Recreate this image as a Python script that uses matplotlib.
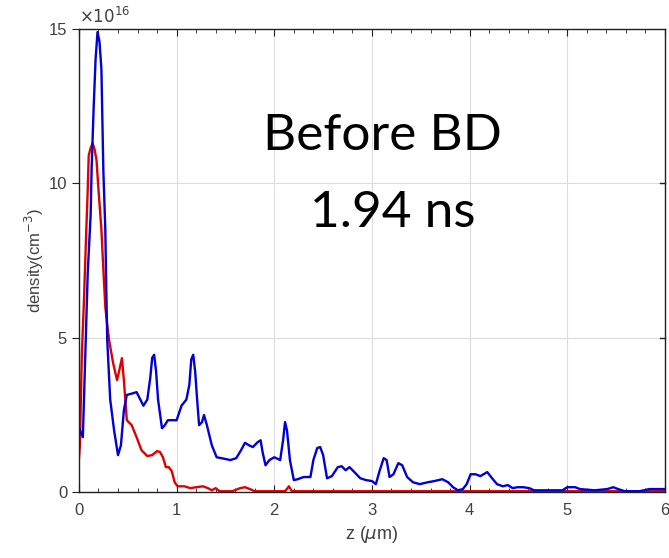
import numpy as np
import matplotlib
matplotlib.use('Agg')
import matplotlib.pyplot as plt
from matplotlib.ticker import MultipleLocator

# Electron (blue) and ion (red) density profiles along z, in units of 1e16 cm^-3
z_blue = [0.00, 0.01, 0.04, 0.07, 0.09, 0.12, 0.13, 0.15, 0.17, 0.19, 0.21, 0.23,
          0.24, 0.25, 0.27, 0.28, 0.29, 0.32, 0.36, 0.40, 0.43, 0.46, 0.49, 0.55,
          0.59, 0.62, 0.66, 0.70, 0.73, 0.75, 0.77, 0.79, 0.81, 0.85, 0.88, 0.91,
          0.95, 1.00, 1.05, 1.10, 1.13, 1.15, 1.17, 1.19, 1.21, 1.23, 1.26, 1.28,
          1.31, 1.36, 1.41, 1.46, 1.55, 1.61, 1.66, 1.70, 1.74, 1.78, 1.83, 1.86,
          1.88, 1.91, 1.95, 2.00, 2.06, 2.09, 2.11, 2.13, 2.16, 2.20, 2.24, 2.30,
          2.37, 2.40, 2.44, 2.47, 2.50, 2.54, 2.59, 2.65, 2.69, 2.73, 2.77, 2.82,
          2.88, 2.94, 3.00, 3.04, 3.08, 3.12, 3.15, 3.18, 3.22, 3.27, 3.31, 3.36,
          3.42, 3.49, 3.57, 3.64, 3.72, 3.78, 3.83, 3.88, 3.93, 3.97, 4.01, 4.06,
          4.11, 4.18, 4.23, 4.28, 4.34, 4.39, 4.44, 4.49, 4.55, 4.61, 4.66, 4.72,
          4.82, 4.95, 5.00, 5.08, 5.13, 5.28, 5.41, 5.47, 5.52, 5.59, 5.74, 5.84,
          6.00]
n_blue = [2.10, 2.00, 1.78, 5.00, 7.10, 9.00, 10.5, 12.4, 14.0, 14.9, 14.6, 13.7,
          12.05, 10.4, 8.50, 6.55, 4.90, 3.00, 2.00, 1.20, 1.52, 2.65, 3.15, 3.20,
          3.24, 3.05, 2.80, 3.00, 3.70, 4.35, 4.45, 3.90, 3.00, 2.07, 2.17, 2.33,
          2.33, 2.33, 2.80, 3.00, 3.47, 4.30, 4.45, 3.90, 3.00, 2.17, 2.27, 2.50,
          2.17, 1.52, 1.13, 1.10, 1.04, 1.10, 1.36, 1.60, 1.52, 1.46, 1.62, 1.68,
          1.30, 0.87, 1.04, 1.13, 1.04, 1.68, 2.27, 2.00, 1.04, 0.39, 0.42, 0.49,
          0.49, 1.04, 1.43, 1.46, 1.20, 0.45, 0.52, 0.81, 0.84, 0.71, 0.81, 0.65,
          0.45, 0.39, 0.36, 0.26, 0.71, 1.10, 1.04, 0.49, 0.58, 0.94, 0.87, 0.49,
          0.32, 0.26, 0.32, 0.36, 0.42, 0.32, 0.16, 0.06, 0.10, 0.26, 0.58, 0.58,
          0.52, 0.65, 0.45, 0.26, 0.19, 0.23, 0.13, 0.16, 0.16, 0.13, 0.06, 0.06,
          0.06, 0.06, 0.16, 0.16, 0.10, 0.06, 0.10, 0.16, 0.10, 0.03, 0.03, 0.10,
          0.10]

z_red = [0.00, 0.01, 0.03, 0.05, 0.07, 0.09, 0.10, 0.12, 0.14, 0.16, 0.18, 0.20,
         0.23, 0.25, 0.27, 0.29, 0.31, 0.35, 0.39, 0.41, 0.44, 0.46, 0.49, 0.54,
         0.59, 0.64, 0.70, 0.75, 0.80, 0.83, 0.86, 0.89, 0.92, 0.95, 0.98, 1.01,
         1.08, 1.14, 1.20, 1.27, 1.32, 1.36, 1.40, 1.44, 1.57, 1.65, 1.70, 1.75,
         1.80, 2.11, 2.15, 2.18, 6.00]
n_red = [1.10, 1.52, 4.50, 6.10, 8.00, 9.80, 10.9, 11.15, 11.3, 11.1, 10.75, 9.80,
         8.50, 7.20, 6.00, 5.40, 4.90, 4.18, 3.63, 3.90, 4.34, 3.63, 2.33, 2.17,
         1.78, 1.36, 1.17, 1.20, 1.33, 1.30, 1.13, 0.81, 0.81, 0.68, 0.32, 0.19,
         0.19, 0.13, 0.16, 0.19, 0.13, 0.06, 0.13, 0.03, 0.03, 0.13, 0.16, 0.10,
         0.03, 0.03, 0.19, 0.03, 0.03]

tick_gray = '#404040'

fig = plt.figure(figsize=(6.69, 5.58), dpi=100)
ax = fig.add_axes([0.118, 0.118, 0.876, 0.830])

ax.plot(z_red, n_red, color='#e00000', lw=1.7)
ax.plot(z_blue, n_blue, color='#0000d8', lw=1.7)

ax.set_xlim(0, 6)
ax.set_ylim(0, 15)
ax.set_xticks(range(0, 7))
ax.set_yticks([0, 5, 10, 15])
ax.xaxis.set_minor_locator(MultipleLocator(0.2))
ax.grid(True, which='major', color='#dcdcdc', lw=0.8)
ax.set_axisbelow(True)

ax.tick_params(axis='x', which='both', direction='in', top=True, bottom=True,
               labelsize=12, labelcolor=tick_gray, color='#202020', pad=8)
ax.tick_params(axis='x', which='major', length=5)
ax.tick_params(axis='x', which='minor', length=3)
ax.tick_params(axis='y', which='major', direction='out', left=True, right=False,
               length=5, labelsize=12, labelcolor=tick_gray, color='#202020')
for spine in ax.spines.values():
    spine.set_color('#202020')
    spine.set_linewidth(1.0)
for lab in ax.get_xticklabels() + ax.get_yticklabels():
    lab.set_fontfamily('Liberation Sans')

# right-hand inward ticks
for yv in [5, 10]:
    ax.plot([6, 5.95], [yv, yv], color='#202020', lw=1.0, clip_on=False)

ax.set_xlabel(r'z ($\mu$m)', fontsize=13, color=tick_gray, family='Liberation Sans', labelpad=4)
ax.set_ylabel(r'density(cm$^{-3}$)', fontsize=12, color=tick_gray, family='Liberation Sans', labelpad=2)

ax.text(0.0, 1.005, r'$\times10^{16}$', transform=ax.transAxes, fontsize=12,
        color=tick_gray, ha='left', va='bottom')

ax.text(3.11, 11.08, 'Before BD', fontsize=37, family='Lato', ha='center', va='baseline', color='black')
ax.text(3.21, 8.58, '1.94 ns', fontsize=37, family='Lato', ha='center', va='baseline', color='black')

fig.savefig('out.png', dpi=100)
